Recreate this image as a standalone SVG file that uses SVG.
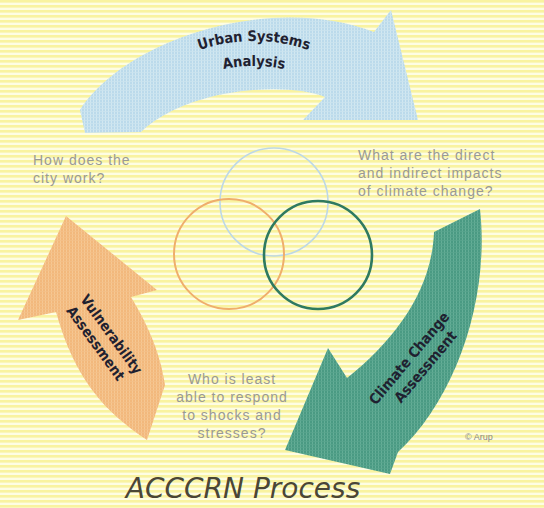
<svg xmlns="http://www.w3.org/2000/svg" width="544" height="508" viewBox="0 0 544 508">
  <defs>
    <style>
      .q { font-family: "Liberation Sans", Arial, sans-serif; font-size: 14px; fill: #9a9a94; letter-spacing: 1px; }
      .lbl { font-family: "DejaVu Sans Condensed", "Liberation Sans", sans-serif; font-weight: bold; font-size: 14.5px; fill: #1f2130; }
      .ring { fill: none; }
      .title { font-family: "DejaVu Sans", "Liberation Sans", sans-serif; font-style: italic; font-size: 28px; fill: #4a4636; }
      .credit { font-family: "Liberation Sans", Arial, sans-serif; font-size: 9px; fill: #8a8a84; }
    </style>
    <!-- striped paper background -->
    <pattern id="paper" width="8" height="5" patternUnits="userSpaceOnUse">
      <rect width="8" height="5" fill="#fefde3"/>
      <rect width="8" height="2.6" fill="#f9f3a0"/>
    </pattern>
    <!-- screened fills for the three arrows -->
    <pattern id="screenBlue" width="3" height="3" patternUnits="userSpaceOnUse">
      <rect width="3" height="3" fill="#bbdaeb"/>
      <rect width="1" height="3" fill="#d2e8f1"/>
      <rect width="3" height="0.8" fill="#cbe4ef"/>
    </pattern>
    <pattern id="screenGreen" width="3" height="3" patternUnits="userSpaceOnUse">
      <rect width="3" height="3" fill="#4a9a83"/>
      <rect width="1" height="3" fill="#64ae97"/>
      <rect width="3" height="0.8" fill="#58a48d"/>
    </pattern>
    <pattern id="screenOrange" width="3" height="3" patternUnits="userSpaceOnUse">
      <rect width="3" height="3" fill="#f2b87c"/>
      <rect width="1" height="3" fill="#f6c893"/>
      <rect width="3" height="0.8" fill="#f4c088"/>
    </pattern>
    <path id="arcTop" d="M 84,211 A 170 170 0 0 1 424,211"/>
    <path id="arcMid" d="M 108,212 A 146 146 0 0 1 400,212"/>
  </defs>

  <rect width="544" height="508" fill="url(#paper)"/>

  <!-- connectors: the three curved process arrows -->
  <g id="connectors">
    <path id="arrow-urban" fill="url(#screenBlue)"
          d="M 80,110 C 125,40 270,-8 374,32 L 391,10 L 418,120 L 303,120 L 325,97 C 290,82 190,86 141,132 L 85,133 Z"/>
    <path id="arrow-climate" fill="url(#screenGreen)"
          d="M 434,232 L 480,209 C 490,300 455,400 398,452 L 390,474 L 285,450 L 328,348 L 347,378 C 395,340 432,290 434,232 Z"/>
    <path id="arrow-vulnerability" fill="url(#screenOrange)"
          d="M 147,440 C 105,412 75,380 56,312 L 18,320 L 66,216 L 157,290 L 131,297 C 145,320 160,350 165,385 Z"/>
  </g>

  <!-- step labels on the arrows -->
  <g id="node-urban">
    <text class="lbl"><textPath href="#arcTop" startOffset="50%" text-anchor="middle">Urban Systems</textPath></text>
    <text class="lbl"><textPath href="#arcMid" startOffset="50%" text-anchor="middle">Analysis</textPath></text>
  </g>
  <g id="node-climate" transform="translate(416,364) rotate(-50)">
    <text class="lbl" x="0" y="-4" text-anchor="middle">Climate Change</text>
    <text class="lbl" x="4" y="14" text-anchor="middle">Assessment</text>
  </g>
  <g id="node-vulnerability" transform="translate(103,338) rotate(54)">
    <text class="lbl" x="2" y="-4" text-anchor="middle">Vulnerability</text>
    <text class="lbl" x="0" y="14" text-anchor="middle">Assessment</text>
  </g>

  <!-- overlapping rings in the centre -->
  <g id="node-rings">
    <circle class="ring" cx="274" cy="202" r="54" stroke="#bdd8e6" stroke-width="1.6"/>
    <circle class="ring" cx="229" cy="254" r="55" stroke="#efae6c" stroke-width="2"/>
    <circle class="ring" cx="318" cy="255" r="54" stroke="#2f7a60" stroke-width="2.6"/>
  </g>

  <!-- guiding questions -->
  <g id="node-q-city">
    <text class="q" x="33" y="165">How does the</text>
    <text class="q" x="33" y="183">city work?</text>
  </g>
  <g id="node-q-impacts">
    <text class="q" x="358" y="160">What are the direct</text>
    <text class="q" x="358" y="178">and indirect impacts</text>
    <text class="q" x="358" y="196">of climate change?</text>
  </g>
  <g id="node-q-least">
    <text class="q" x="232" y="384" text-anchor="middle">Who is least</text>
    <text class="q" x="232" y="402" text-anchor="middle">able to respond</text>
    <text class="q" x="232" y="420" text-anchor="middle">to shocks and</text>
    <text class="q" x="232" y="438" text-anchor="middle">stresses?</text>
  </g>

  <text class="credit" x="465" y="440">© Arup</text>
  <text class="title" x="243" y="498" text-anchor="middle">ACCCRN Process</text>
</svg>
